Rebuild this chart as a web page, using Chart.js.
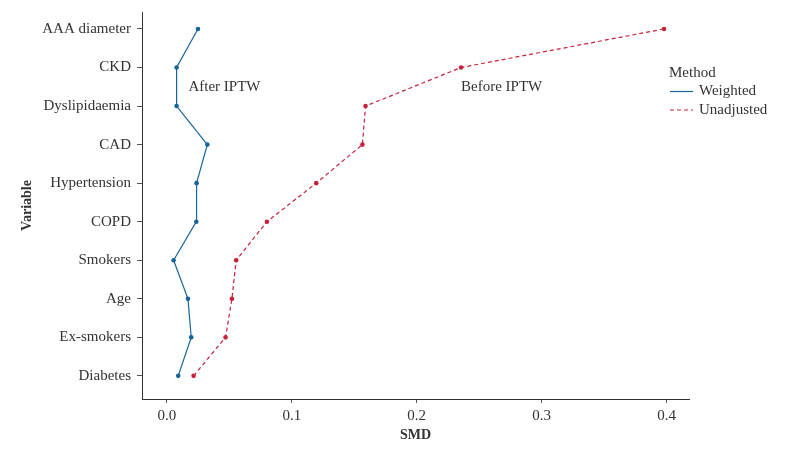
<!DOCTYPE html>
<html>
<head>
<meta charset="utf-8">
<script src="https://cdn.jsdelivr.net/npm/chart.js@4/dist/chart.umd.min.js"></script>
<style>
  html, body { margin: 0; padding: 0; background: #fff; }
  #wrap { width: 787px; height: 450px; }
</style>
</head>
<body>
<div id="wrap"><canvas id="smd-chart" width="787" height="450"></canvas></div>
<script>
// variables, bottom to top
var variables = ["Diabetes", "Ex-smokers", "Age", "Smokers", "COPD", "Hypertension", "CAD", "Dyslipidaemia", "CKD", "AAA diameter"];
var weighted = [0.009, 0.0194, 0.0168, 0.0053, 0.0235, 0.0237, 0.0323, 0.0077, 0.0077, 0.0248];
var unadjusted = [0.0213, 0.0469, 0.052, 0.0554, 0.080, 0.1195, 0.1565, 0.159, 0.2355, 0.398];
var xTicks = [0, 0.1, 0.2, 0.3, 0.4];
var seriesNames = ["Weighted", "Unadjusted"];
var notes = [
  { text: "After IPTW", x: 0.046, y: 8.5 },
  { text: "Before IPTW", x: 0.268, y: 8.5 }
];

var FONT = "'Liberation Serif', serif";
var FS = 15;
var TXT = "#333333";
var BLUE = "#17649a";
var RED = "#c8203c";

function toPoints(vals){
  var pts = [];
  for(var i = 0; i < vals.length; i++){
    pts.push({ x: vals[i], y: i + 1 });
  }
  return pts;
}

// text notes + legend drawn on the canvas
var extras = {
  id: "extras",
  afterDatasetsDraw: function(chart){
    var ctx = chart.ctx, xs = chart.scales.x, ys = chart.scales.y;
    ctx.save();
    ctx.font = FS + "px " + FONT;
    ctx.fillStyle = TXT;
    ctx.textAlign = "center";
    ctx.textBaseline = "middle";
    notes.forEach(function(n){
      ctx.fillText(n.text, xs.getPixelForValue(n.x), ys.getPixelForValue(n.y));
    });

    // legend
    var lx = 669, ly = 73;
    ctx.textAlign = "left";
    ctx.fillText("Method", lx, ly);
    var colors = [BLUE, RED], dashes = [[], [4, 3]];
    for(var i = 0; i < seriesNames.length; i++){
      var yy = ly + 18.5 * (i + 1);
      ctx.strokeStyle = colors[i];
      ctx.lineWidth = 1.2;
      ctx.setLineDash(dashes[i]);
      ctx.beginPath();
      ctx.moveTo(lx + 1, yy);
      ctx.lineTo(lx + 24, yy);
      ctx.stroke();
      ctx.setLineDash([]);
      ctx.fillStyle = TXT;
      ctx.fillText(seriesNames[i], lx + 30, yy);
    }
    ctx.restore();
  }
};

new Chart(document.getElementById("smd-chart"), {
  type: "scatter",
  data: {
    datasets: [
      {
        label: seriesNames[0],
        data: toPoints(weighted),
        showLine: true,
        borderColor: BLUE,
        backgroundColor: BLUE,
        borderWidth: 1.2,
        pointRadius: 2.3,
        pointBorderWidth: 0,
        clip: false
      },
      {
        label: seriesNames[1],
        data: toPoints(unadjusted),
        showLine: true,
        borderColor: RED,
        backgroundColor: RED,
        borderWidth: 1.2,
        borderDash: [4, 3],
        pointRadius: 2.3,
        pointBorderWidth: 0,
        clip: false
      }
    ]
  },
  options: {
    responsive: false,
    animation: false,
    layout: { padding: { left: 0, top: 12, right: 98, bottom: 0 } },
    plugins: { legend: { display: false }, tooltip: { enabled: false } },
    scales: {
      x: {
        type: "linear",
        min: -0.02,
        max: 0.418,
        afterBuildTicks: function(s){ s.ticks = xTicks.map(function(v){ return { value: v }; }); },
        afterFit: function(s){ s.height = 51; s.paddingLeft = 0; s.paddingRight = 0; },
        border: { display: true, color: "#333", width: 1 },
        grid: { drawOnChartArea: false, drawTicks: true, tickLength: 4, color: "#555" },
        ticks: {
          padding: 4,
          color: TXT,
          font: { family: FONT, size: FS },
          callback: function(v){ return v.toFixed(1); }
        },
        title: {
          display: true,
          text: "SMD",
          color: TXT,
          font: { family: FONT, size: FS - 1, weight: "bold" },
          padding: { top: 0, bottom: 6 }
        }
      },
      y: {
        type: "linear",
        min: 0.4,
        max: 10.44,
        afterBuildTicks: function(s){ s.ticks = variables.map(function(_, i){ return { value: i + 1 }; }); },
        afterFit: function(s){ s.width = 142; s.paddingTop = 0; s.paddingBottom = 0; },
        border: { display: true, color: "#333", width: 1 },
        grid: { drawOnChartArea: false, drawTicks: true, tickLength: 5, color: "#555" },
        ticks: {
          padding: 6,
          color: TXT,
          font: { family: FONT, size: FS },
          callback: function(v){ return variables[Math.round(v) - 1]; }
        },
        title: {
          display: true,
          text: "Variable",
          color: TXT,
          font: { family: FONT, size: FS - 1, weight: "bold" },
          padding: { top: 19, bottom: 0 }
        }
      }
    }
  },
  plugins: [extras]
});
</script>
</body>
</html>
